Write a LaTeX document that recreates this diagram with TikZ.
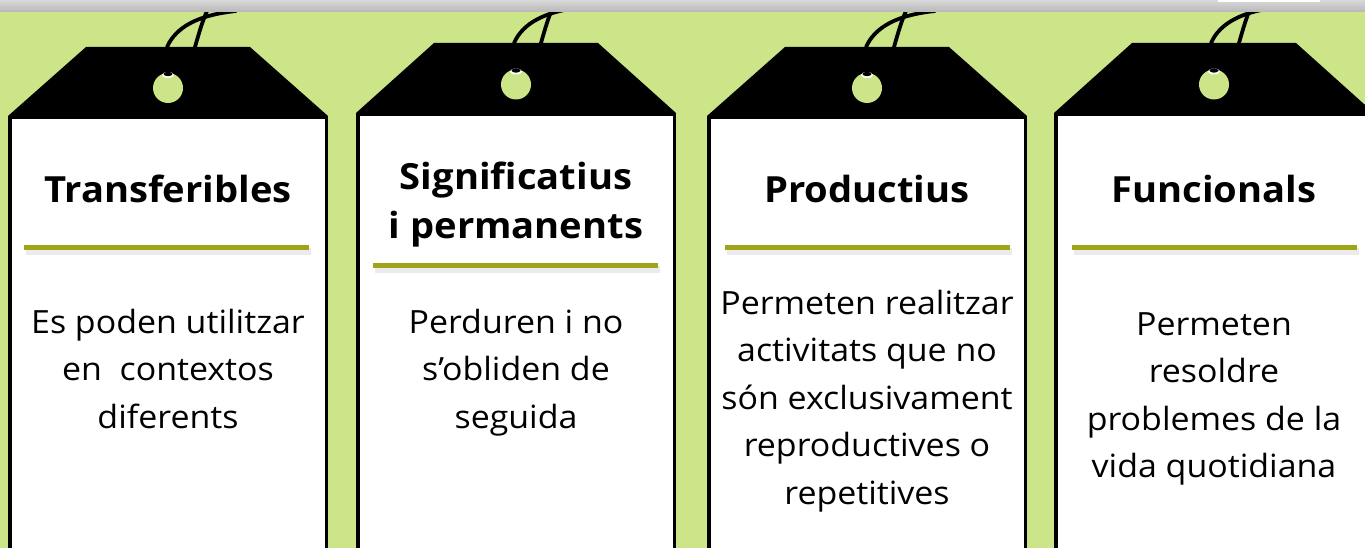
\documentclass[tikz,border=0pt]{standalone}
\usepackage{fontspec}
\setmainfont{Open Sans}[FakeStretch=1.06]
\definecolor{leafgreen}{RGB}{204,229,136}
\definecolor{rulegreen}{RGB}{158,166,24}

\begin{document}
\begin{tikzpicture}
[every node/.style={inner sep=0pt},
 tagtop/.style={fill=black},
 tagbody/.style={fill=white, draw=black, line width=3.5pt},
 taghole/.style={fill=leafgreen},
 tagstring/.style={draw=black, line width=3.8pt, line cap=round},
 tagrule/.style={draw=rulegreen, line width=5pt},
 ruleshadow/.style={draw=black, line width=7pt, opacity=0.08},
 tagtitle/.style={font=\fontsize{36pt}{50pt}\selectfont\bfseries, align=center, anchor=base},
 tagtext/.style={font=\fontsize{32pt}{47.5pt}\selectfont, align=center, anchor=base}]
\useasboundingbox (0pt, 0pt) rectangle (1365pt, -548pt);
\clip (0pt, 0pt) rectangle (1365pt, -548pt);
\fill [leafgreen] (0pt, 0pt) rectangle (1365pt, -548pt);
% tag 1
\draw [tagstring] (167pt, -47pt) .. controls (176pt, -27pt) and (198pt, -15pt) .. (236pt, -11pt);
\draw [tagstring] (195pt, -47pt) .. controls (199pt, -33pt) and (203pt, -19pt) .. (208pt, -9pt);
\fill [tagtop] (86pt, -47pt) -- (250pt, -47pt) -- (328pt, -116pt) -- (8pt, -116pt) -- cycle;
\fill [taghole] (168pt, -88pt) circle (15pt);
\fill [white] (168pt, -75pt) ellipse (6pt and 3pt);
\fill [black] (168pt, -74pt) ellipse (4.5pt and 2.2pt);
\draw [tagbody] (9.75pt, -117.75pt) rectangle (326.25pt, -560pt);
\draw [ruleshadow] (26pt, -251pt) -- (311pt, -251pt);
\draw [tagrule] (24pt, -247pt) -- (309pt, -247pt);
\node (title1) [tagtitle] at (168pt, -203pt) {Transferibles};
\node (text1) [tagtext] at (168pt, -428pt) {Es poden utilitzar\\en\ \ contextos\\diferents};
% tag 2
\draw [tagstring] (514pt, -43pt) .. controls (523pt, -23pt) and (545pt, -11pt) .. (584pt, -7pt);
\draw [tagstring] (541pt, -43pt) .. controls (545pt, -29pt) and (549pt, -15pt) .. (554pt, -5pt);
\fill [tagtop] (434pt, -43pt) -- (598pt, -43pt) -- (676pt, -113pt) -- (356pt, -113pt) -- cycle;
\fill [taghole] (516pt, -84.5pt) circle (15pt);
\fill [white] (516pt, -71.5pt) ellipse (6pt and 3pt);
\fill [black] (516pt, -70.5pt) ellipse (4.5pt and 2.2pt);
\draw [tagbody] (357.75pt, -114.75pt) rectangle (674.25pt, -560pt);
\draw [ruleshadow] (375pt, -269pt) -- (660pt, -269pt);
\draw [tagrule] (373pt, -265pt) -- (658pt, -265pt);
\node (title2) [tagtitle] at (516pt, -239pt) {Significatius\\i permanents};
\node (text2) [tagtext] at (516pt, -428pt) {Perduren i no\\s’obliden de\\seguida};
% tag 3
\draw [tagstring] (866pt, -47pt) .. controls (875pt, -27pt) and (897pt, -15pt) .. (935pt, -11pt);
\draw [tagstring] (894pt, -47pt) .. controls (898pt, -33pt) and (902pt, -19pt) .. (907pt, -9pt);
\fill [tagtop] (785pt, -47pt) -- (949pt, -47pt) -- (1027pt, -116pt) -- (707pt, -116pt) -- cycle;
\fill [taghole] (867pt, -88pt) circle (15pt);
\fill [white] (867pt, -75pt) ellipse (6pt and 3pt);
\fill [black] (867pt, -74pt) ellipse (4.5pt and 2.2pt);
\draw [tagbody] (708.75pt, -117.75pt) rectangle (1025.25pt, -560pt);
\draw [ruleshadow] (727pt, -251pt) -- (1012pt, -251pt);
\draw [tagrule] (725pt, -247pt) -- (1010pt, -247pt);
\node (title3) [tagtitle] at (867pt, -203pt) {Productius};
\node (text3) [tagtext] at (867pt, -504pt) {Permeten realitzar\\activitats que no\\són exclusivament\\reproductives o\\repetitives};
% tag 4
\draw [tagstring] (1211pt, -43pt) .. controls (1220pt, -23pt) and (1242pt, -11pt) .. (1281pt, -7pt);
\draw [tagstring] (1239pt, -43pt) .. controls (1243pt, -29pt) and (1247pt, -15pt) .. (1252pt, -5pt);
\fill [tagtop] (1132pt, -43pt) -- (1296pt, -43pt) -- (1374pt, -113pt) -- (1054pt, -113pt) -- cycle;
\fill [taghole] (1214pt, -84.5pt) circle (15pt);
\fill [white] (1214pt, -71.5pt) ellipse (6pt and 3pt);
\fill [black] (1214pt, -70.5pt) ellipse (4.5pt and 2.2pt);
\draw [tagbody] (1055.75pt, -114.75pt) rectangle (1372.25pt, -560pt);
\draw [ruleshadow] (1074pt, -251pt) -- (1359pt, -251pt);
\draw [tagrule] (1072pt, -247pt) -- (1357pt, -247pt);
\node (title4) [tagtitle] at (1214pt, -203pt) {Funcionals};
\node (text4) [tagtext] at (1214pt, -477.5pt) {Permeten\\resoldre\\problemes de la\\vida quotidiana};
% top strip
\shade [top color=black!15, middle color=white, bottom color=black!28] (0pt, 0pt) rectangle (1365pt, -12pt);
\fill [white] (1218pt, 0pt) rectangle (1320pt, -2pt);
\end{tikzpicture}
\end{document}
